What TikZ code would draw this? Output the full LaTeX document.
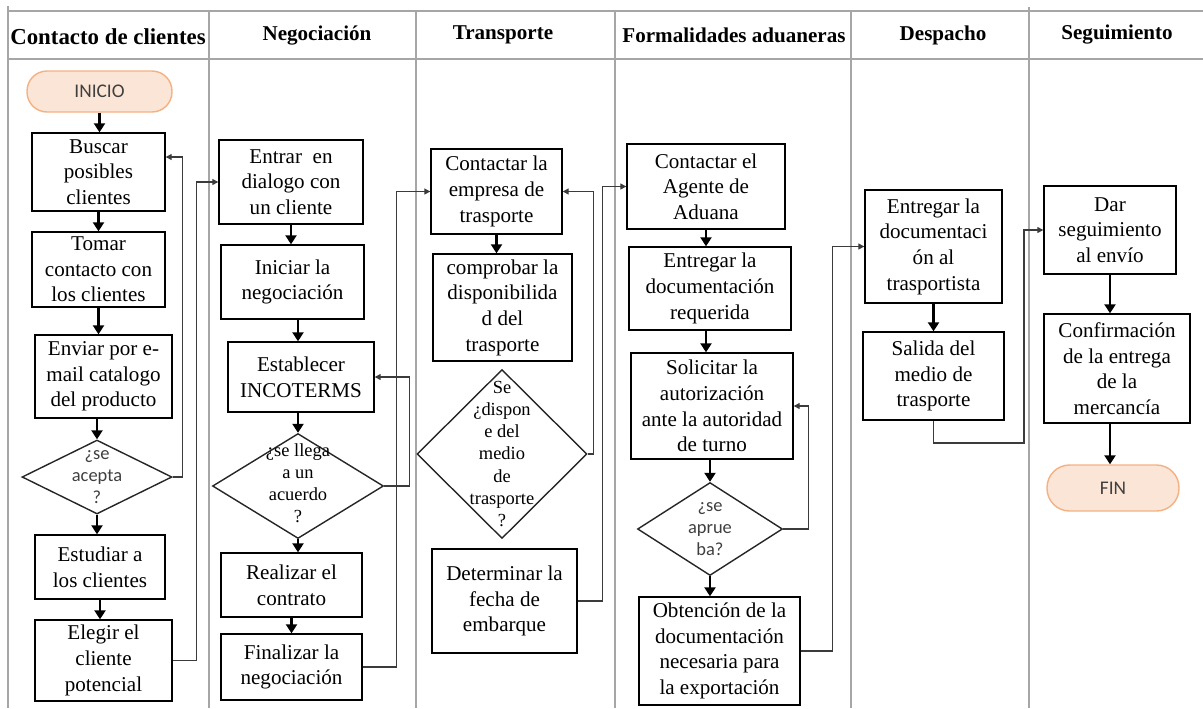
\documentclass[tikz,border=0pt]{standalone}
\usepackage{fontspec}
\setmainfont{Liberation Serif}
\newfontfamily\calibri{Carlito}
\usetikzlibrary{arrows.meta,shapes.geometric}
\definecolor{lane}{HTML}{A6A6A6}
\definecolor{link}{HTML}{3B3B3B}
\definecolor{peach}{HTML}{FBE5D6}
\definecolor{peachline}{HTML}{F4B183}
\definecolor{sanstext}{HTML}{3F3F3F}
\tikzset{
  box/.style={draw=black, line width=0.8pt, align=center, inner sep=2pt,
              font=\fontsize{12}{14.6}\selectfont},
  ends/.style={draw=peachline, fill=peach, line width=0.8pt, align=center,
               font=\calibri\fontsize{11}{13}\selectfont, text=sanstext},
  decision/.style={diamond, draw=black!85, line width=0.8pt, inner sep=0pt},
  dtext/.style={align=center, inner sep=0pt, font=\fontsize{10.5}{12.6}\selectfont},
  dsans/.style={align=center, inner sep=0pt, text=sanstext,
                font=\calibri\fontsize{10.5}{12.6}\selectfont},
  flow/.style={-{Triangle[length=1.8mm,width=2.2mm]}, line width=1.3pt},
  back/.style={-{Triangle[length=1.2mm,width=1.2mm]}, line width=0.7pt, draw=link},
  laneline/.style={draw=lane, line width=1.1pt},
  lanehead/.style={font=\bfseries\fontsize{12}{14}\selectfont}
}
\begin{document}
\begin{tikzpicture}[x=0.02cm,y=-0.02cm]
  \useasboundingbox (0,0) rectangle (1203,708);

  % swimlanes
  \draw[laneline] (8,6) -- (8,708);
  \foreach \lx in {209,416,615,851} \draw[laneline] (\lx,11) -- (\lx,708);
  \draw[laneline] (1029,7) -- (1029,708);
  \draw[laneline] (8,11) -- (1203,11);
  \draw[laneline] (8,59) -- (1203,59);

  \node[lanehead,font=\bfseries\fontsize{13}{15}\selectfont] (h1) at (108,37) {Contacto de clientes};
  \node[lanehead] (h2) at (317,35) {Negociación};
  \node[lanehead] (h3) at (503,35) {Transporte};
  \node[lanehead] (h4) at (734,35) {Formalidades aduaneras};
  \node[lanehead] (h5) at (943,35) {Despacho};
  \node[lanehead] (h6) at (1117,35) {Seguimiento};

  % contacto de clientes
  \node[ends,minimum width=2.9cm,minimum height=0.82cm,rounded corners=0.4cm] (inicio) at (99.5,91.5) {INICIO};
  \node[box,minimum width=2.66cm,minimum height=1.56cm] (buscar) at (98.5,172) {Buscar\\posibles\\clientes};
  \node[box,minimum width=2.66cm,minimum height=1.5cm] (tomar) at (98.5,269.5) {Tomar\\contacto con\\los clientes};
  \node[box,minimum width=2.74cm,minimum height=1.66cm] (enviar) at (103.5,376.5) {Enviar por e-\\mail catalogo\\del producto};
  \node[decision,minimum width=3.0cm,minimum height=1.48cm] (acepta) at (97,477) {};
  \node[dsans] (aceptatxt) at (acepta) {¿se\\acepta\\?};
  \node[box,minimum width=2.6cm,minimum height=1.28cm] (estudiar) at (100,567) {Estudiar a\\los clientes};
  \node[box,minimum width=2.74cm,minimum height=1.62cm] (elegir) at (103.5,660.5) {Elegir el\\cliente\\potencial};

  % negociacion
  \node[box,minimum width=2.88cm,minimum height=1.68cm] (entrar) at (291,182) {Entrar~ en\\dialogo con\\un cliente};
  \node[box,minimum width=2.86cm,minimum height=1.48cm] (iniciar) at (292.5,282) {Iniciar la\\negociación};
  \node[box,minimum width=2.92cm,minimum height=1.4cm] (establecer) at (301,377) {Establecer\\INCOTERMS};
  \node[decision,minimum width=3.42cm,minimum height=2.1cm] (acuerdo) at (298,486) {};
  \node[dtext] (acuerdotxt) at (298,483) {¿se llega\\a un\\acuerdo\\?};
  \node[box,minimum width=2.82cm,minimum height=1.28cm] (realizar) at (291.5,585) {Realizar el\\contrato};
  \node[box,minimum width=2.82cm,minimum height=1.32cm] (finalizar) at (291.5,667) {Finalizar la\\negociación};

  % transporte
  \node[box,minimum width=2.62cm,minimum height=1.7cm] (empresa) at (496.5,191.5) {Contactar la\\empresa de\\trasporte};
  \node[box,minimum width=2.78cm,minimum height=2.14cm] (comprobar) at (502.5,307.5) {comprobar la\\disponibilida\\d del\\trasporte};
  \node[decision,minimum width=3.4cm,minimum height=3.38cm] (dispone) at (502,454) {};
  \node[dtext] (disponetxt) at (dispone) {Se\\¿dispon\\e del\\medio\\de\\trasporte\\?};
  \node[box,minimum width=2.9cm,minimum height=2.08cm] (determinar) at (504.5,601) {Determinar la\\fecha de\\embarque};

  % formalidades aduaneras
  \node[box,minimum width=3.16cm,minimum height=1.7cm] (agente) at (706,186.5) {Contactar el\\Agente de\\Aduana};
  \node[box,minimum width=3.24cm,minimum height=1.66cm] (entregadoc) at (710,288.5) {Entregar la\\documentación\\requerida};
  \node[box,minimum width=3.24cm,minimum height=2.12cm] (solicitar) at (712,406) {Solicitar la\\autorización\\ante la autoridad\\de turno};
  \node[decision,minimum width=2.9cm,minimum height=1.86cm] (aprueba) at (710,529) {};
  \node[dsans] (apruebatxt) at (aprueba) {¿se\\aprue\\ba?};
  \node[box,minimum width=3.22cm,minimum height=2.16cm] (obtencion) at (719.5,651) {Obtención de la\\documentación\\necesaria para\\la exportación};

  % despacho
  \node[box,minimum width=2.74cm,minimum height=2.26cm] (entregatrans) at (933.5,246.5) {Entregar la\\documentaci\\ón al\\trasportista};
  \node[box,minimum width=2.82cm,minimum height=1.76cm] (salida) at (933.5,376) {Salida del\\medio de\\trasporte};

  % seguimiento
  \node[box,minimum width=2.64cm,minimum height=1.76cm] (seguir) at (1110,230) {Dar\\seguimiento\\al envío};
  \node[box,minimum width=2.92cm,minimum height=2.18cm] (confirmar) at (1117,368.5) {Confirmación\\de la entrega\\de la\\mercancía};
  \node[ends,minimum width=2.64cm,minimum height=0.92cm,rounded corners=0.45cm] (fin) at (1113,488) {FIN};

  % main flow
  \draw[flow] (inicio.south) -- (inicio.south |- buscar.north);
  \draw[flow] (buscar.south) -- (buscar.south |- tomar.north);
  \draw[flow] (tomar.south) -- (tomar.south |- enviar.north);
  \draw[flow] (acepta.north |- enviar.south) -- (acepta.north);
  \draw[flow] (acepta.south) -- (acepta.south |- estudiar.north);
  \draw[flow] (estudiar.south) -- (estudiar.south |- elegir.north);

  \draw[flow] (entrar.south) -- (entrar.south |- iniciar.north);
  \draw[flow] (acuerdo.north |- iniciar.south) -- (acuerdo.north |- establecer.north);
  \draw[flow] (acuerdo.north |- establecer.south) -- (acuerdo.north);
  \draw[flow] (acuerdo.south) -- (acuerdo.south |- realizar.north);
  \draw[flow] (realizar.south) -- (realizar.south |- finalizar.north);

  \draw[flow] (empresa.south) -- (empresa.south |- comprobar.north);

  \draw[flow] (agente.south) -- (agente.south |- entregadoc.north);
  \draw[flow] (agente.south |- entregadoc.south) -- (agente.south |- solicitar.north);
  \draw[flow] (aprueba.north |- solicitar.south) -- (aprueba.north);
  \draw[flow] (aprueba.south) -- (aprueba.south |- obtencion.north);

  \draw[flow] (entregatrans.south) -- (entregatrans.south |- salida.north);

  \draw[flow] (seguir.south) -- (seguir.south |- confirmar.north);
  \draw[flow] (seguir.south |- confirmar.south) -- (seguir.south |- fin.north);

  % returns and lane changes
  \draw[back] (acepta.east) -- ++(10,0) |- ([yshift=0.3cm]buscar.east);
  \draw[back] (elegir.east) -- ++(24,0) |- (entrar.west);
  \draw[back] (acuerdo.east) -- ++(25,0) |- (establecer.east);
  \draw[back] (finalizar.east) -- ++(34,0) |- (empresa.west);
  \draw[back] (dispone.east) -- ++(6,0) |- (empresa.east);
  \draw[back] (determinar.east) -- ++(25,0) |- (agente.west);
  \draw[back] (aprueba.east) -- ++(25,0) |- (solicitar.east);
  \draw[back] (obtencion.east) -- ++(32,0) |- (entregatrans.west);
  \draw[back] (salida.south) |- (1024,443) |- (seguir.west);
\end{tikzpicture}
\end{document}
